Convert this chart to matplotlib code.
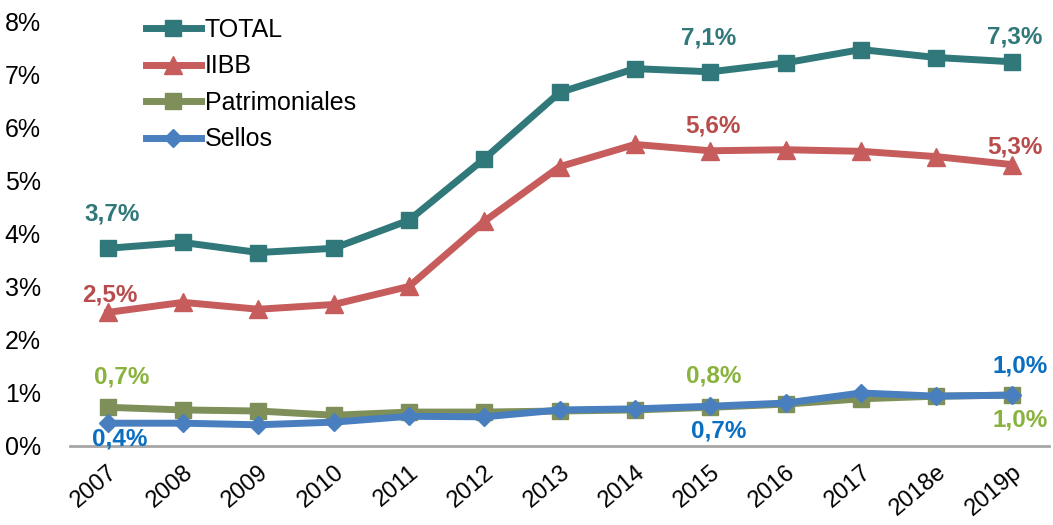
import matplotlib.pyplot as plt

plt.rcParams['font.family'] = ['Liberation Sans', 'DejaVu Sans']

# Data (% of GDP)
years = ["2007", "2008", "2009", "2010", "2011", "2012", "2013",
         "2014", "2015", "2016", "2017", "2018e", "2019p"]
total = [3.73, 3.84, 3.65, 3.73, 4.26, 5.42, 6.67, 7.12, 7.06, 7.23, 7.48, 7.33, 7.25]
iibb = [2.52, 2.71, 2.58, 2.67, 3.01, 4.24, 5.27, 5.69, 5.57, 5.59, 5.56, 5.46, 5.31]
patrimoniales = [0.73, 0.68, 0.66, 0.58, 0.64, 0.64, 0.66, 0.68, 0.73, 0.79, 0.89, 0.94, 0.96]
sellos = [0.43, 0.43, 0.40, 0.45, 0.56, 0.55, 0.68, 0.70, 0.75, 0.81, 1.00, 0.94, 0.96]

# Data labels: (index, text)
total_labels = [(0, "3,7%"), (8, "7,1%"), (12, "7,3%")]
iibb_labels = [(0, "2,5%"), (8, "5,6%"), (12, "5,3%")]
patri_labels = [(0, "0,7%"), (8, "0,8%"), (12, "1,0%")]
sellos_labels = [(0, "0,4%"), (8, "0,7%"), (12, "1,0%")]

c_total = "#31787A"
c_iibb = "#C65D5C"
c_patri = "#7E8F5A"
c_sellos = "#4A7FBF"
c_patri_lbl = "#8AB33E"
c_sellos_lbl = "#0A6FC2"

fig = plt.figure(figsize=(10.53, 5.25), dpi=100)
ax = fig.add_axes([0.0665, 0.1505, 0.93, 0.8076])

x = list(range(len(years)))
lw = 5
ax.plot(x, total, color=c_total, lw=lw, marker="s", ms=11, label="TOTAL", zorder=3)
ax.plot(x, iibb, color=c_iibb, lw=lw, marker="^", ms=13, label="IIBB", zorder=3)
ax.plot(x, patrimoniales, color=c_patri, lw=lw, marker="s", ms=11, label="Patrimoniales", zorder=3)
ax.plot(x, sellos, color=c_sellos, lw=lw, marker="D", ms=9, label="Sellos", zorder=4)

def put_labels(labels, values, color, offsets):
    for (i, txt), off in zip(labels, offsets):
        ax.annotate(txt, (i, values[i]), xytext=off, textcoords="offset pixels",
                    ha="center", va="center", fontsize=17.5, fontweight="bold", color=color,
                    zorder=5)

put_labels(total_labels, total, c_total, [(4, 34), (-2, 34), (3, 25)])
put_labels(iibb_labels, iibb, "#B84B4B", [(2, 17), (3, 25), (3, 18)])
put_labels(patri_labels, patrimoniales, c_patri_lbl, [(14, 30), (3, 31), (8, -25)])
put_labels(sellos_labels, sellos, c_sellos_lbl, [(12, -16), (8, -25), (8, 29)])

ax.set_xlim(-0.5, len(years) - 0.5)
ax.set_ylim(0, 8)
ax.set_yticks(range(0, 9))
ax.set_yticklabels([f"{v}%" for v in range(0, 9)], fontsize=18)
ax.set_xticks(x)
ax.set_xticklabels(years, fontsize=17, rotation=40, ha="right", rotation_mode="anchor")
ax.tick_params(axis="x", length=0, pad=11)
ax.tick_params(axis="y", length=0, pad=47)

for s in ["top", "right", "left"]:
    ax.spines[s].set_visible(False)
ax.spines["bottom"].set_color("#A6A6A6")
ax.spines["bottom"].set_linewidth(2)
for lbl in ax.get_yticklabels():
    lbl.set_horizontalalignment("left")

ax.legend(loc="upper left", bbox_to_anchor=(0.0775, 1.01), frameon=False, fontsize=18,
          handlelength=2.2, handletextpad=0.15, labelspacing=0.5, borderpad=0,
          borderaxespad=0)

fig.savefig("out.png", dpi=100)
